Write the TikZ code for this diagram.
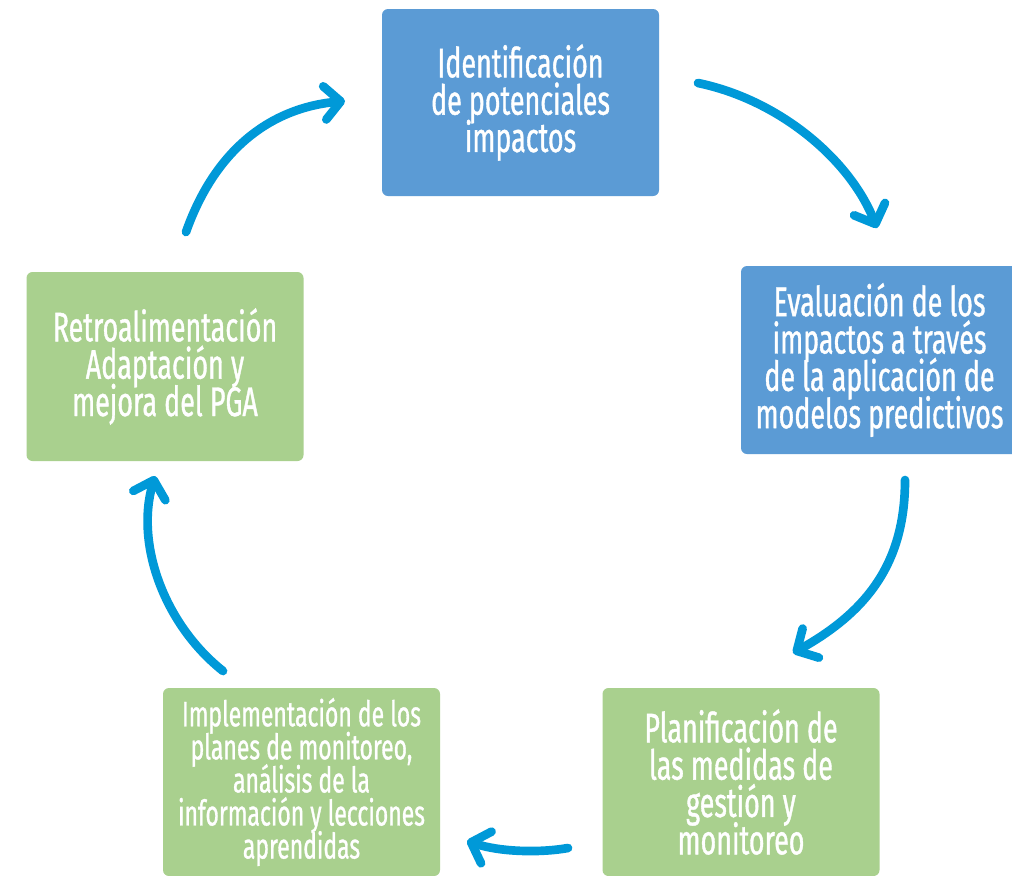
\documentclass[tikz,border=0pt]{standalone}
\usepackage{fontspec}
\setmainfont{Fira Sans}[FakeStretch=0.65, FakeBold=0.9]
\usetikzlibrary{arrows.meta}
\definecolor{boxblue}{RGB}{91,155,213}
\definecolor{boxgreen}{RGB}{169,208,142}
\definecolor{arrowblue}{RGB}{0,153,216}
\newcommand\mytightlines{\lineskiplimit=-30pt\relax\lineskip=0pt\relax}
\tikzset{
  box/.style={rounded corners=4.5pt, inner sep=0pt, align=center, text=white,
    minimum width=207.75pt, minimum height=141pt,
    font=\fontsize{31}{28}\selectfont\mytightlines},
  bluebox/.style={box, fill=boxblue},
  greenbox/.style={box, fill=boxgreen},
  cyc/.style={draw=arrowblue, line width=6.5pt, line cap=round, line join=round,
    -{Straight Barb[length=12pt, width=25pt, round]}}
}
\begin{document}
\begin{tikzpicture}[x=0.75pt,y=-0.75pt]
\clip (0,0) rectangle (1012,875);
\fill[white] (0,0) rectangle (1012,875);
\node[bluebox, minimum height=140.25pt] (b1) at (520.5,102.5) {Identificación\\de potenciales\\impactos};
\node[bluebox] (b2) at (879.5,360) {Evaluación de los\\impactos a través\\de la aplicación de\\modelos predictivos};
\node[greenbox] (b3) at (741,782) {Planificación de\\las medidas de\\gestión y\\monitoreo};
\node[greenbox, font=\fontsize{26.5}{24.8}\selectfont\mytightlines] (b4) at (301.5,782) {Implementación de los\\planes de monitoreo,\\análisis de la\\información y lecciones\\aprendidas};
\node[greenbox, minimum height=141.75pt] (b5) at (165,366.5) {Retroalimentación\\Adaptación y\\mejora del PGA};
\coordinate (a1s) at (186,232);
\coordinate (a1e) at (345,101);
\coordinate (a2s) at (698,83);
\coordinate (a2e) at (877,228);
\coordinate (a3s) at (905,480);
\coordinate (a3e) at (793,653);
\coordinate (a4s) at (568,848);
\coordinate (a4e) at (467,841);
\coordinate (a5s) at (223,671);
\coordinate (a5e) at (155,476);
\draw[cyc] (a1s) .. controls (215,150) and (270,108) .. (a1e);
\draw[cyc] (a2s) .. controls (780,100) and (850,160) .. (a2e);
\draw[cyc] (a3s) .. controls (905,560) and (870,610) .. (a3e);
\draw[cyc] (a4s) .. controls (540,853) and (500,852) .. (a4e);
\draw[cyc] (a5s) .. controls (165,625) and (135,545) .. (a5e);
\end{tikzpicture}
\end{document}
